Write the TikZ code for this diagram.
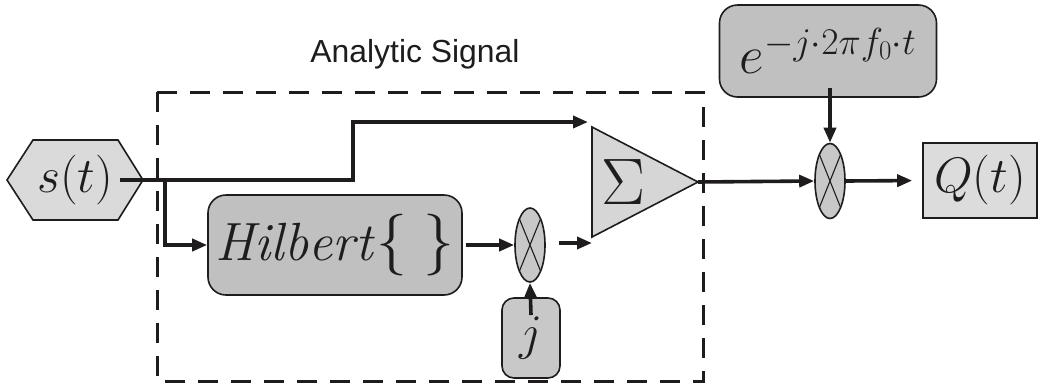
\RequirePackage{fix-cm}
\documentclass[tikz,border=0pt]{standalone}
\usepackage{fontspec}
\newfontfamily\labelsans{Liberation Sans}
\usetikzlibrary{arrows.meta,shapes.geometric}
\definecolor{hexgray}{RGB}{218,218,218}
\definecolor{boxgray}{RGB}{192,192,192}
\definecolor{mixgray}{RGB}{200,200,200}
\definecolor{trigray}{RGB}{214,214,214}
\definecolor{qgray}{RGB}{220,220,220}
\definecolor{ink}{RGB}{30,28,28}
\begin{document}
\begin{tikzpicture}[x=1bp,y=-1bp,
  wire/.style={draw=ink,line width=3.6bp},
  conn/.style={wire,-{Triangle[length=15bp,width=12bp]}},
  blk/.style={draw=ink,line width=1.6bp},
  rbox/.style={blk,fill=boxgray,rounded corners=18bp,inner sep=0pt},
  mixer/.style={blk,ellipse,fill=mixgray,minimum width=30bp,minimum height=74bp,inner sep=0pt,
    path picture={\draw[ink,line width=1.1bp]
      (path picture bounding box.north west) -- (path picture bounding box.south east)
      (path picture bounding box.north east) -- (path picture bounding box.south west);}},
  bigmath/.style={font=\fontsize{50}{50}\selectfont}
]
\useasboundingbox (0,0) rectangle (1040,388);

% dashed frame of the analytic signal
\draw[ink,line width=3bp,dash pattern=on 20bp off 13bp] (157,92) rectangle (703,381);
\node[font=\labelsans\fontsize{32}{32}\selectfont,anchor=base,text=ink] (title) at (415,62) {Analytic Signal};

% input hexagon
\draw[blk,fill=hexgray] (7,180) -- (33,140) -- (118,140) -- (143,180) -- (118,220) -- (33,220) -- cycle;
\node[bigmath,text=ink] (s) at (75,180) {$s(t)$};
\coordinate (sout) at (120,180);
\coordinate (br) at (165,180);

% Hilbert block
\node[rbox,minimum width=254bp,minimum height=100bp,text=ink] (hil) at (335,245)
  {\fontsize{54}{54}\selectfont$\mathit{Hilbert}$\kern4bp{\fontsize{62}{62}\selectfont$\{\hspace{16bp}\}$}};

% mixer with j
\node[mixer] (m1) at (530,245) {};
\node[rbox,fill=mixgray,rounded corners=12bp,minimum width=58bp,minimum height=80bp,text=ink] (jb) at (531,338)
  {\fontsize{50}{50}\selectfont$j$};
\coordinate (jout) at (531,315);

% summation triangle
\draw[blk,fill=trigray] (592,127) -- (698,182) -- (592,237) -- cycle;
\node[font=\fontsize{66}{66}\selectfont,text=ink] (sum) at (623,182) {$\Sigma$};
\coordinate (in1) at (588,122);
\coordinate (in2) at (592,243);
\coordinate (sumout) at (698,182);

% second mixer, carrier and output
\node[mixer,minimum height=75bp] (m2) at (830,181) {};
\node[rbox,minimum width=217bp,minimum height=92bp,text=ink] (ex) at (828,51)
  {\fontsize{54}{54}\selectfont$e^{-j\cdot 2\pi f_0\cdot t}$};
\coordinate (exout) at (830,88);
\node[blk,fill=qgray,minimum width=114bp,minimum height=75bp,inner sep=0pt,text=ink] (q) at (980,180.5)
  {\fontsize{50}{50}\selectfont$Q(t)$};

% connectors
\draw[conn] (sout) -- (353,180) -- (353,122) -- (in1);
\draw[conn] (br) |- (hil.west);
\draw[conn,shorten <=3bp] (hil.east) -- (m1.west);
\draw[conn,shorten <=13bp] (m1.east |- in2) -- (in2);
\draw[conn] (jout) -- (m1.south);
\draw[conn] (sumout) -- (m2.west);
\draw[conn] (exout) -- (m2.north);
\draw[conn,shorten >=10bp] (m2.east) -- (q.west);
\end{tikzpicture}
\end{document}
